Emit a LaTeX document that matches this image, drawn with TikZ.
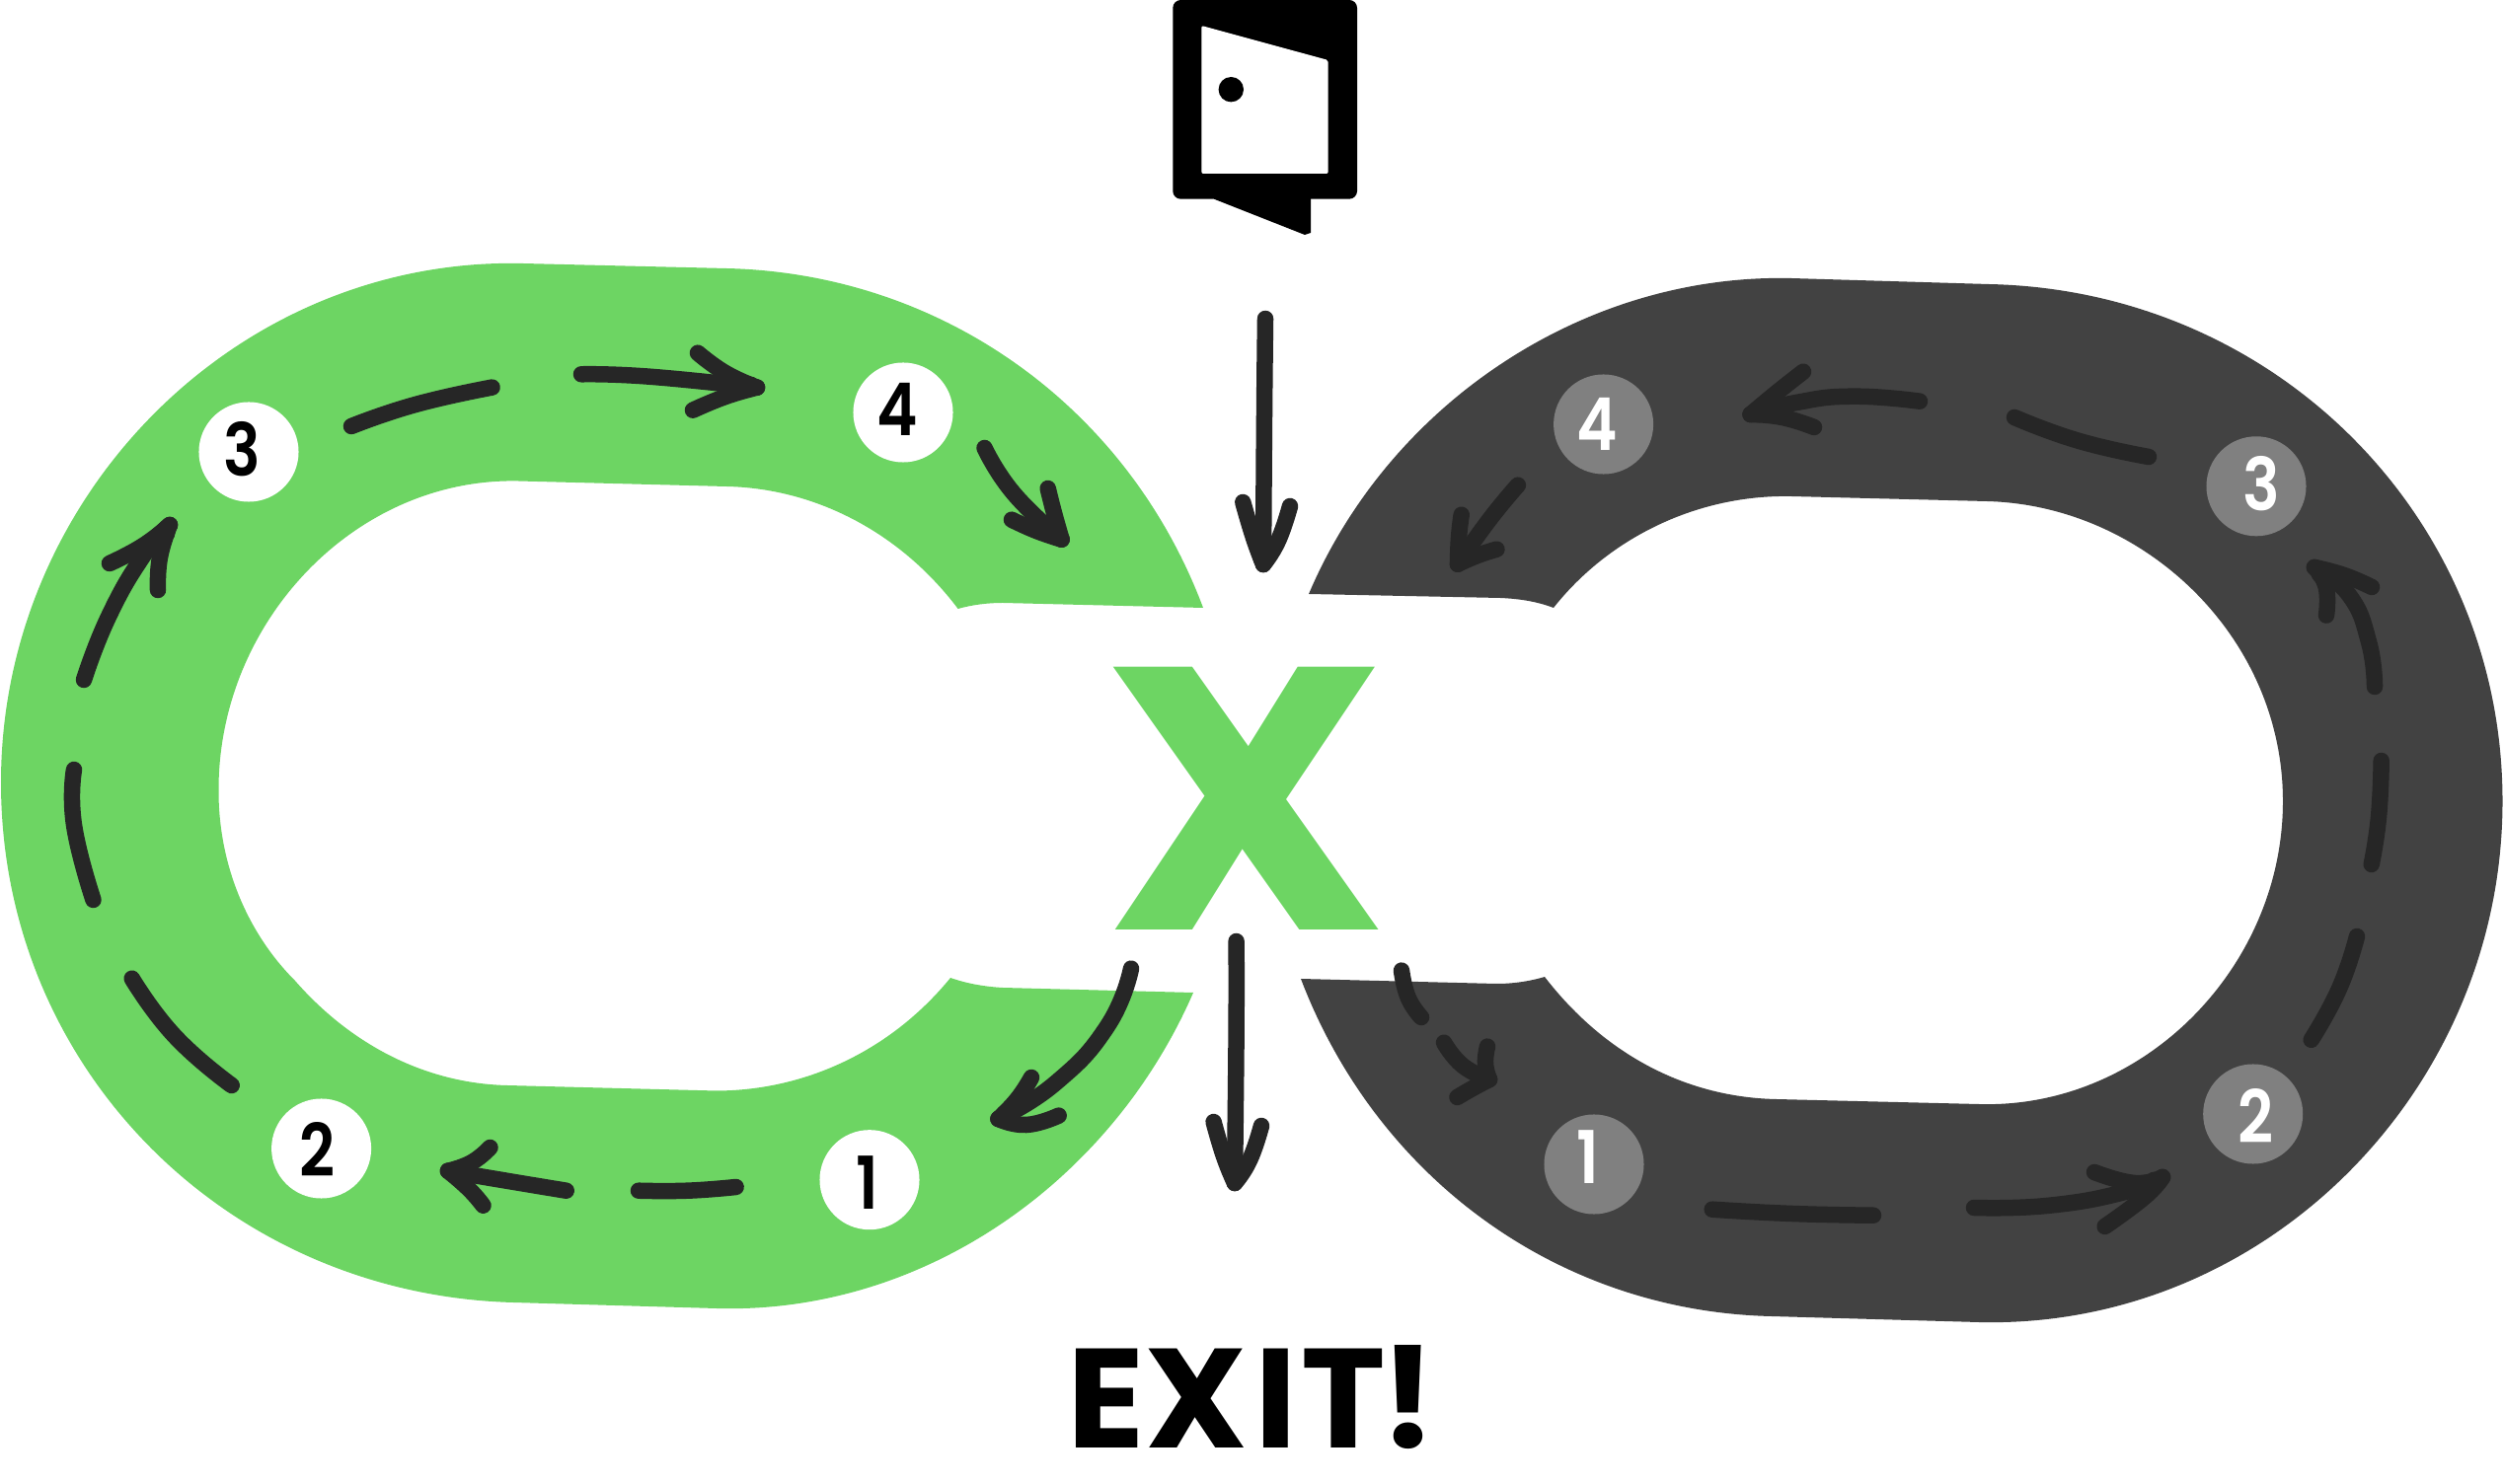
\documentclass[tikz,border=0pt]{standalone}
\usepackage{fontspec}
\usepackage{graphicx}
\setmainfont{Poppins}
\newfontfamily\digitfont{Poppins SemiBold}
\newfontfamily\bigfont{Poppins}[UprightFont=*-Bold]
\definecolor{ringgreen}{HTML}{6DD563}
\definecolor{ringdark}{HTML}{424242}
\definecolor{discgray}{HTML}{808080}
\definecolor{ink}{HTML}{262626}
\tikzset{
  hand/.style={draw=ink,line width=0.165cm,line cap=round,line join=round},
  disc/.style={circle,inner sep=0pt,minimum size=1.01cm},
  gdisc/.style={disc,fill=white},
  ddisc/.style={disc,fill=discgray},
  digit/.style={inner sep=0pt,font=\digitfont\fontsize{21}{21}\selectfont},
  gdigit/.style={digit,text=black},
  ddigit/.style={digit,text=white}
}
\newcommand{\stroke}[1]{\draw[hand] plot[smooth,tension=0.85] coordinates {#1};}
\newcommand{\tipdot}[1]{\fill[ink] #1 circle (10.5);}
\newcommand{\dgt}[1]{\scalebox{0.85}[1]{#1}}
\begin{document}
\begin{tikzpicture}[x=0.01cm,y=0.01cm,yscale=-1]
\useasboundingbox (0,0) rectangle (2536,1504);
% green ring
\fill[ringgreen] (530,267) -- (736,272)
  .. controls (954,277) and (1142.5,412) .. (1219,616)
  -- (1016,611) .. controls (1000,611) and (985,613) .. (970.6,617)
  .. controls (915,543) and (830,495) .. (736,493)
  -- (525,487.5)
  .. controls (360,484) and (221.5,630) .. (221.5,800)
  .. controls (221,875) and (250,945) .. (299,994)
  .. controls (355,1058) and (430,1098) .. (514,1100)
  -- (726,1105.5)
  .. controls (820,1105) and (905,1062) .. (963,991)
  .. controls (980,997) and (998,1000) .. (1016,1001)
  -- (1209,1006)
  .. controls (1126,1197) and (936,1332) .. (726,1326)
  -- (520,1320)
  .. controls (230,1312) and (1,1083) .. (1,793)
  .. controls (1,503) and (240,260) .. (530,267) -- cycle;
% dark ring
\fill[ringdark] (1815,282) -- (2015,288)
  .. controls (2306,294) and (2535.5,525) .. (2535.5,812)
  .. controls (2535.5,1104) and (2296,1347) .. (2005,1340)
  -- (1795,1334)
  .. controls (1579,1329) and (1395,1194) .. (1318,992)
  -- (1516,997) .. controls (1532,997) and (1548,995) .. (1565,990)
  .. controls (1622,1064) and (1703,1112) .. (1800,1114)
  -- (2005,1119)
  .. controls (2172,1124) and (2313,980) .. (2313,812)
  .. controls (2313,645) and (2172,512) .. (2013,508)
  -- (1815,503)
  .. controls (1720,501) and (1630,545) .. (1574,616)
  .. controls (1558,610) and (1542,607) .. (1520,606)
  -- (1326,602)
  .. controls (1408,409) and (1605,277) .. (1815,282) -- cycle;
% door icon
\fill[black,rounded corners=0.08cm] (1188.3,0) rectangle (1375,201.7);
\fill[black] (1230,195) -- (1230,201.7) -- (1322,238) -- (1328,236) -- (1328,195) -- cycle;
\fill[white,rounded corners=0.02cm] (1217.3,26) -- (1345.7,61) -- (1345.7,176) -- (1217.3,176) -- cycle;
\fill[black] (1247.3,90.7) circle (12.7);
% big X and EXIT
\node[anchor=center,inner sep=0pt,text=ringgreen] (bigx) at (1263,809)
  {\resizebox{2.88cm}{2.66cm}{\bigfont X}};
\node[anchor=south west,inner sep=0pt,text=black] (exit) at (1080.5,1469)
  {\resizebox{3.74cm}{1.04cm}{\bigfont E\kern0.01em X\kern0.05em I\kern0.03em T\kern-0.04em !}};
% discs and digits
\node[gdisc] (g3) at (252,458) {};
\node[gdisc] (g4) at (915,418) {};
\node[gdisc] (g2) at (325.6,1164) {};
\node[gdisc] (g1) at (881,1195.7) {};
\node[ddisc] (d4) at (1624.6,430) {};
\node[ddisc] (d3) at (2286,492.8) {};
\node[ddisc] (d1) at (1615,1180) {};
\node[ddisc] (d2) at (2282.7,1129) {};
\node[gdigit] (t3) at (245.5,455) {\dgt{3}};
\node[gdigit] (t4) at (909.5,415) {\dgt{4}};
\node[gdigit] (t2) at (321.8,1164.5) {\dgt{2}};
\node[gdigit] (t1) at (879,1198.5) {\dgt{1}};
\node[ddigit] (u4) at (1618,429.5) {\dgt{4}};
\node[ddigit] (u3) at (2291,490) {\dgt{3}};
\node[ddigit] (u1) at (1608.7,1172.6) {\dgt{1}};
\node[ddigit] (u2) at (2285,1130.5) {\dgt{2}};
% entry and exit arrows
\stroke{(1282,323) (1281,420) (1280,572)}
\stroke{(1259.3,509) (1270,545) (1280,572)}
\stroke{(1307,513) (1295,548) (1280,572)}
\tipdot{(1280,566)}
\stroke{(1252.6,954) (1252.6,1047) (1251,1199)}
\stroke{(1229.6,1137) (1240,1172) (1251,1199)}
\stroke{(1278,1141) (1266,1176) (1251,1199)}
\tipdot{(1251,1193)}
% green ring strokes
\stroke{(94.5,912) (75,836) (75,780)}
\stroke{(85,689) (110,625) (145,563.6) (172,532)}
\stroke{(111,571) (145,553) (172,532)}
\stroke{(160,598) (162,565) (172,532)}
\tipdot{(167,540)}
\stroke{(356,432) (421,410) (498.6,392.6)}
\stroke{(589,379.3) (658,381.7) (767,392.7)}
\stroke{(707,357.7) (735,378) (767,392.7)}
\stroke{(702,415.7) (735,402) (767,392.7)}
\tipdot{(760,392)}
\stroke{(997.5,454) (1027,500) (1075.6,546.7)}
\stroke{(1061.7,495) (1068,520) (1075.6,546.7)}
\stroke{(1025,526.7) (1050,538) (1075.6,546.7)}
\tipdot{(1069,540)}
\stroke{(1146,981.6) (1122,1040) (1069,1098) (1011.5,1134)}
\stroke{(1045,1092) (1030.6,1114) (1011.5,1134)}
\stroke{(1072.7,1130.6) (1040,1140) (1011.5,1134)}
\tipdot{(1019,1130)}
\stroke{(745.6,1203) (696.5,1206.7) (647,1206.7)}
\stroke{(573.7,1206.7) (521,1198) (454,1186.7)}
\stroke{(496.5,1163) (478,1178) (454,1186.7)}
\stroke{(489.5,1221.7) (475,1205) (454,1186.7)}
\tipdot{(461,1188)}
\stroke{(234.7,1100) (177,1050) (133.7,991.7)}
% dark ring strokes
\stroke{(1420,983.6) (1426.7,1011) (1440,1031)}
\stroke{(1463,1056.7) (1482,1080) (1509,1094)}
\stroke{(1507,1060.6) (1505,1078) (1509,1094)}
\stroke{(1476.5,1112) (1492,1103) (1509,1094)}
\tipdot{(1502,1092)}
\stroke{(1734.7,1225.7) (1816,1230) (1898,1231.7)}
\stroke{(2000,1224) (2076.5,1221.7) (2153,1208) (2191,1193)}
\stroke{(2122,1188) (2163,1199) (2191,1193)}
\stroke{(2132.6,1243) (2173,1213) (2191,1193)}
\tipdot{(2183,1198)}
\stroke{(2341.7,1053.8) (2370,1002) (2388,949)}
\stroke{(2402.7,876) (2410,828) (2412.7,771)}
\stroke{(2406,696) (2400,650.5) (2380,603) (2345,575)}
\stroke{(2403,595) (2375,583) (2345,575)}
\stroke{(2357,623.6) (2356.7,595) (2345,575)}
\tipdot{(2352,581)}
\stroke{(2177,463) (2105.7,446.7) (2041,423)}
\stroke{(1945,406.7) (1877,401.7) (1820,408) (1773.6,420)}
\stroke{(1827,376.7) (1800,398) (1773.6,420)}
\stroke{(1838,433) (1805.7,423) (1773.6,420)}
\tipdot{(1781,418)}
\stroke{(1537.9,491.7) (1509,526.7) (1477,571.7)}
\stroke{(1480.7,521.7) (1478,545) (1477,571.7)}
\stroke{(1516.4,556.7) (1497,563) (1477,571.7)}
\tipdot{(1483,564)}
\end{tikzpicture}
\end{document}
